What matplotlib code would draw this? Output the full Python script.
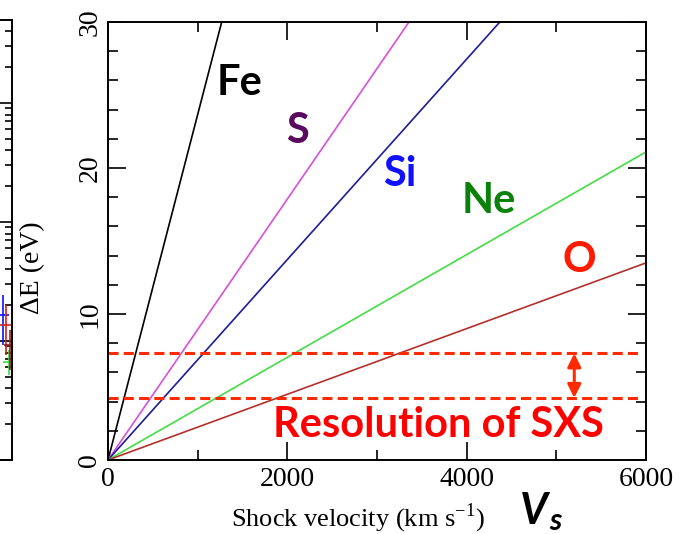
import numpy as np
import matplotlib
matplotlib.use("Agg")
import matplotlib.pyplot as plt
from matplotlib.ticker import MultipleLocator, LogLocator, NullFormatter

plt.rcParams["mathtext.fontset"] = "custom"
plt.rcParams["mathtext.rm"] = "Liberation Serif"

# Line broadening vs. shock velocity: each line runs from the origin
# to the point where it leaves the frame.
elements = ["Fe", "S", "Si", "Ne", "O"]
end_velocity = [1268, 3357, 4370, 6000, 6000]      # km/s
end_delta_e = [30.0, 30.0, 30.0, 21.1, 13.5]       # eV
line_colors = ["#000000", "#d94fd9", "#1c1c9c", "#44dd44", "#b3302c"]

# Element labels (velocity, baseline energy) and their text colours
label_v = [1472, 2108, 3256, 4249, 5253]
label_e = [25.0, 21.7, 18.8, 16.9, 12.9]
label_colors = ["#000000", "#5a0a5e", "#1010ff", "#0a820a", "#ff1a00"]

# Energy resolution band of the SXS
sxs_levels = [7.3, 4.25]
arrow_v = 5200

# Right edge of the neighbouring panel (log scale, error bars)
strip_x = [0.955, 0.97, 0.985, 0.99]
strip_y = [16.5, 13.6, 6.6, 9.3]
strip_ylo = [9.3, 7.6, 5.2, 5.7]
strip_yhi = [24.4, 20.0, 8.4, 12.3]
strip_colors = ["#1010ff", "#d02020", "#40dd40", "#902020"]

SERIF = "Liberation Serif"
SANS = "Lato"
W, H = 689, 534

fig = plt.figure(figsize=(W / 100, H / 100), dpi=100)

# --- neighbouring panel, mostly off the left edge ---
axl = fig.add_axes([12 / W - 0.3, 74 / H, 0.3, 440 / H])
axl.set_yscale("log")
axl.set_ylim(1, 10 ** (440 / 119))
axl.set_xlim(0, 1)
for i in range(len(strip_x)):
    axl.errorbar(strip_x[i], strip_y[i],
                 yerr=[[strip_y[i] - strip_ylo[i]], [strip_yhi[i] - strip_y[i]]],
                 xerr=0.03, color=strip_colors[i], lw=1.2, capsize=0)
axl.yaxis.set_major_locator(LogLocator(base=10))
axl.yaxis.set_minor_locator(LogLocator(base=10, subs=np.arange(2, 10)))
axl.yaxis.set_minor_formatter(NullFormatter())
axl.tick_params(which="both", direction="in", left=False, right=True,
                labelleft=False, labelbottom=False, bottom=False, width=1.2)
axl.tick_params(which="major", length=11)
axl.tick_params(which="minor", length=5)
for sp in axl.spines.values():
    sp.set_linewidth(1.4)

# --- main panel ---
ax = fig.add_axes([108 / W, 74 / H, 538 / W, 438 / H])
for el, v1, e1, c in zip(elements, end_velocity, end_delta_e, line_colors):
    ax.plot([0, v1], [0, e1], color=c, lw=1.2)

for el, v, e, c in zip(elements, label_v, label_e, label_colors):
    ax.text(v, e, el, color=c, fontsize=30, fontweight="bold", family=SANS,
            ha="center", va="baseline")

for lvl in sxs_levels:
    ax.plot([0, 5940], [lvl, lvl], color="#ff2a00", lw=2.2,
            linestyle=(0, (3.3, 1.7)))
ax.annotate("", xy=(arrow_v, sxs_levels[0]), xytext=(arrow_v, sxs_levels[1]),
            arrowprops=dict(arrowstyle="<|-|>", color="#ff2a00", lw=2.2,
                            mutation_scale=20, shrinkA=0, shrinkB=0))
ax.text(3680, 1.58, "Resolution of SXS", color="#ff0000", fontsize=30,
        fontweight="bold", family=SANS, ha="center", va="baseline")

ax.set_xlim(0, 6000)
ax.set_ylim(0, 30)
ax.xaxis.set_major_locator(MultipleLocator(2000))
ax.xaxis.set_minor_locator(MultipleLocator(1000))
ax.yaxis.set_major_locator(MultipleLocator(10))
ax.yaxis.set_minor_locator(MultipleLocator(2))
ax.tick_params(which="both", direction="in", top=True, right=True, width=1.2)
ax.tick_params(which="major", length=13)
ax.tick_params(which="minor", length=7)
ax.tick_params(axis="x", labelsize=20, pad=5)
ax.tick_params(axis="y", labelsize=20, pad=4, labelrotation=90)
for lab in ax.get_xticklabels() + ax.get_yticklabels():
    lab.set_family(SERIF)
for lab in ax.get_yticklabels():
    lab.set_va("center")
for sp in ax.spines.values():
    sp.set_linewidth(1.4)

ax.set_xlabel("Shock velocity (km s$^{-1}$)", family=SERIF, fontsize=19)
ax.xaxis.set_label_coords((358 - 108) / 538, -(518 - 460) / 438)
ax.xaxis.label.set_va("center")

fig.text(33 / W, 1 - 268 / H, "ΔE (eV)", family=SERIF, fontsize=20,
         rotation=90, ha="center", va="center")

# velocity symbol beside the axis label
fig.text(520 / W, 1 - 524 / H, "V", family=SANS, fontsize=31,
         fontweight="bold", fontstyle="italic", ha="left", va="baseline")
fig.text(549 / W, 1 - 530 / H, "s", family=SANS, fontsize=22,
         fontweight="bold", fontstyle="italic", ha="left", va="baseline")

fig.savefig("out.png", dpi=100)
